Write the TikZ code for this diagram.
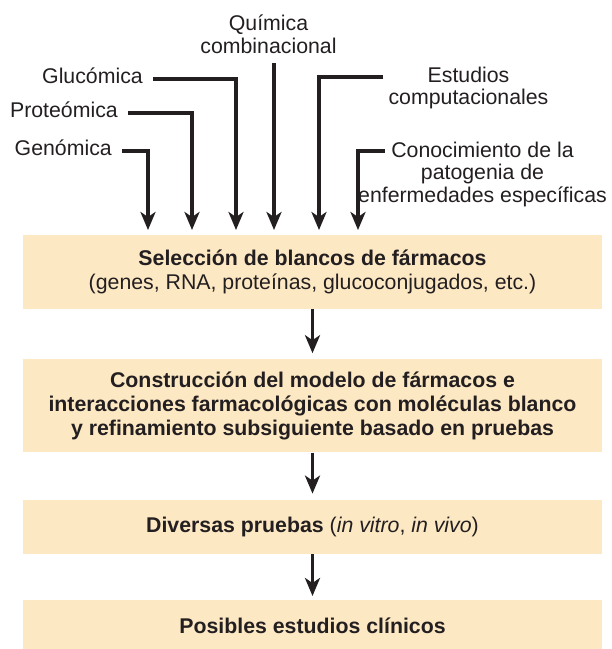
\documentclass[tikz,border=0pt]{standalone}
\usepackage{fontspec}
\setmainfont{Liberation Sans}
\usetikzlibrary{arrows.meta, positioning}
\definecolor{boxfill}{HTML}{FDE8C4}
\definecolor{ink}{HTML}{231F20}
\tikzset{
  box/.style  ={fill=boxfill, text=ink, align=center, inner sep=0pt,
                minimum width=579pt, font=\fontsize{21.3}{24.2}\selectfont},
  lbl/.style  ={text=ink, inner xsep=10pt, inner ysep=0pt,
                text height=11pt, text depth=3pt, font=\fontsize{21.3}{22.5}\selectfont},
  lbltwo/.style={text=ink, align=center, inner sep=0pt,
                font=\fontsize{21.3}{22.5}\selectfont},
  arr/.style  ={draw=ink, line width=3.2pt,
                -{Stealth[length=18pt, width=15pt, inset=5pt]}},
}

\begin{document}
\begin{tikzpicture}[x=1pt, y=-1pt]
  \useasboundingbox (0,0) rectangle (612,649);

  % boxes
  \node[box, minimum height=74pt]                 (sel) at (312.5,272)
    {\textbf{Selección de blancos de fármacos}\\(genes, RNA, proteínas, glucoconjugados, etc.)};
  \node[box, minimum height=93pt, below=50pt of sel] (mod)
    {\textbf{Construcción del modelo de fármacos e}\\
     \textbf{interacciones farmacológicas con moléculas blanco}\\
     \textbf{y refinamiento subsiguiente basado en pruebas}};
  \node[box, minimum height=54pt, below=47pt of mod] (div)
    {\textbf{Diversas pruebas} (\textit{in vitro}, \textit{in vivo})};
  \node[box, minimum height=51pt, below=46pt of div] (cli)
    {\textbf{Posibles estudios clínicos}};

  % inputs
  \coordinate (in1) at (148,230);
  \coordinate (in2) at (192,230);
  \coordinate (in3) at (236,230);
  \coordinate (in4) at (274,230);
  \coordinate (in5) at (319,230);
  \coordinate (in6) at (358,230);

  \node[lbl, anchor=east]     (gen) at (122,151)   {Genómica};
  \node[lbl, anchor=east]     (pro) at (128,113)   {Proteómica};
  \node[lbl, anchor=east]     (glu) at (153,79)    {Glucómica};
  \node[lbltwo, anchor=south] (qui) at (268.5,53.5) {Química\\combinacional};
  \node[lbltwo, anchor=north] (est) at (468.5,66.5) {Estudios\\computacionales};
  \node[lbltwo, anchor=north] (con) at (482.5,141.5)
    {Conocimiento de la\\patogenia de\\enfermedades específicas};

  \draw[arr] (gen.east) -| (in1);
  \draw[arr] (pro.east) -| (in2);
  \draw[arr] (glu.east) -| (in3);
  \draw[arr, shorten <=9.5pt] (qui.south -| in4) -- (in4);
  \draw[arr] ([shift={(-5pt,-10.5pt)}]est.north west) -| (in5);
  \draw[arr] ([shift={(-98pt,-9.5pt)}]con.north) -| (in6);

  \draw[arr, shorten >=6pt] (sel) -- (mod);
  \draw[arr, shorten >=6pt] (mod) -- (div);
  \draw[arr, shorten >=4pt] (div) -- (cli);
\end{tikzpicture}
\end{document}
